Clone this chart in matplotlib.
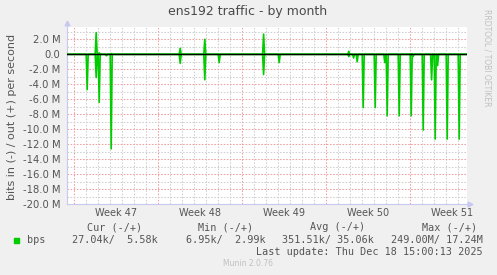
import matplotlib
matplotlib.use("Agg")
import matplotlib.pyplot as plt
from matplotlib.ticker import FuncFormatter

# spikes: day (0 = start of week 47), out (+) and in (-) peaks in Mbit/s
spike_days = [1.10, 1.85, 2.10, 2.70, 3.10, 8.85, 10.90, 12.10, 15.80, 17.10,
              22.90, 23.30, 23.60, 24.10, 25.10, 25.90, 26.10, 27.10, 28.10, 28.25,
              29.10, 29.80, 30.10, 30.30, 31.10, 32.10]
spike_out = [0.0, 2.9, 0.2, 0.0, 0.1, 0.8, 2.0, 0.0, 2.7, 0.0,
             0.4, 0.0, 0.0, 0.0, 0.0, 0.0, 0.0, 0.0, 0.0, 0.0,
             0.0, 0.0, 0.0, 0.0, 0.0, 0.0]
spike_in = [4.7, 3.1, 6.4, 0.2, 12.6, 1.2, 3.4, 1.1, 2.7, 1.1,
            0.3, 0.5, 1.0, 7.1, 7.1, 1.1, 8.2, 8.2, 8.2, 0.3,
            10.1, 3.4, 11.3, 1.5, 11.3, 11.3]

week_labels = ["Week 47", "Week 48", "Week 49", "Week 50", "Week 51"]
legend_heads = ["Cur (-/+)", "Min (-/+)", "Avg (-/+)", "Max (-/+)"]
legend_vals = ["27.04k/  5.58k", "6.95k/  2.99k", "351.51k/ 35.06k", "249.00M/ 17.24M"]

GREEN = "#00cc00"
TXT = "#555555"
AXC = "#c8c8f0"

W, H = 497, 275
t0, t1 = -0.583, 32.75
ymin, ymax = -20e6, 3.68e6


def fx(px):
    return px / W


def fy(py):
    return 1 - py / H


# expand every spike into baseline / peak / baseline at 2 h samples
step = 1 / 12.0
t, out_v, in_v = [t0], [0.0], [0.0]
for d, o, i in zip(spike_days, spike_out, spike_in):
    t += [d - step, d, d + step]
    out_v += [0.0, o * 1e6, 0.0]
    in_v += [0.0, -i * 1e6, 0.0]
t.append(t1)
out_v.append(0.0)
in_v.append(0.0)

fig = plt.figure(figsize=(W / 100, H / 100), dpi=100)
fig.patch.set_facecolor("#f0f0f0")
ax = fig.add_axes([fx(67), fy(204.3), 400 / W, (204.3 - 26.7) / H])
ax.set_facecolor("white")
ax.set_xlim(t0, t1)
ax.set_ylim(ymin, ymax)

# grid
dash = (0, (1.5, 1.5))
for d in range(0, 33):
    red = d % 7 == 0
    ax.axvline(d, color="#f0a0a0" if red else "#d0d0d0", lw=0.75, ls=dash, zorder=1)
for m in range(-20, 4):
    if m == 0:
        continue
    red = m % 2 == 0
    ax.axhline(m * 1e6, color="#f0a0a0" if red else "#d0d0d0", lw=0.75, ls=dash, zorder=1)

ax.plot(t, out_v, color=GREEN, lw=1.2, zorder=3)
ax.plot(t, in_v, color=GREEN, lw=1.2, zorder=3)
ax.axhline(0, color="black", lw=1.0, zorder=4)

for s in ["top", "right"]:
    ax.spines[s].set_visible(False)
ax.spines["left"].set_color(AXC)
ax.spines["bottom"].set_color(AXC)
ax.spines["left"].set_linewidth(0.8)
ax.spines["bottom"].set_linewidth(0.8)

ax.set_yticks([v * 1e6 for v in range(-20, 3, 2)])
ax.yaxis.set_major_formatter(FuncFormatter(lambda v, p: "0.0" if abs(v) < 1 else "%.1f M" % (v / 1e6)))
ax.set_xticks([3.5, 10.5, 17.5, 24.5, 31.5])
ax.set_xticklabels(week_labels)
ax.tick_params(axis="y", length=0, pad=4.8, labelsize=7.2, labelcolor=TXT)
ax.tick_params(axis="x", length=0, pad=2.5, labelsize=7, labelcolor=TXT)

# axis arrows
fig.lines.append(plt.Line2D([fx(66.7)], [fy(23)], marker="^", color=AXC, ms=3.5, transform=fig.transFigure))
fig.lines.append(plt.Line2D([fx(470)], [fy(204.3)], marker=">", color=AXC, ms=3.5, transform=fig.transFigure))

fig.text(fx(248), fy(12), "ens192 traffic - by month", ha="center", va="center", fontsize=9, color="#4a4a4a")
fig.text(fx(12), fy(116.7), "bits in (-) / out (+) per second", rotation=90,
         ha="center", va="center", fontsize=8, color=TXT)
fig.text(fx(486.7), fy(58), "RRDTOOL / TOBI OETIKER", rotation=270,
         ha="center", va="center", fontsize=5.5, color="#c0c0c0")

# legend
mono = dict(family="DejaVu Sans Mono", fontsize=7.25, color=TXT, va="center")
for s, x in zip(legend_heads, [142, 253, 365, 477]):
    fig.text(fx(x), fy(227.3), s, ha="right", **mono)
fig.patches.append(plt.Rectangle((fx(14), fy(242.5)), 5 / W, 5 / H, color=GREEN, transform=fig.transFigure))
fig.text(fx(26.7), fy(239.7), "bps", ha="left", **mono)
for s, x in zip(legend_vals, [157.7, 266, 374, 482.7]):
    fig.text(fx(x), fy(239.7), s, ha="right", **mono)
fig.text(fx(482.7), fy(251.7), "Last update: Thu Dec 18 15:00:13 2025", ha="right", **mono)
fig.text(fx(248), fy(264), "Munin 2.0.76", ha="center", va="center", fontsize=5.5, color="#c0c0c0")

fig.savefig("out.png", dpi=100, facecolor=fig.get_facecolor())
